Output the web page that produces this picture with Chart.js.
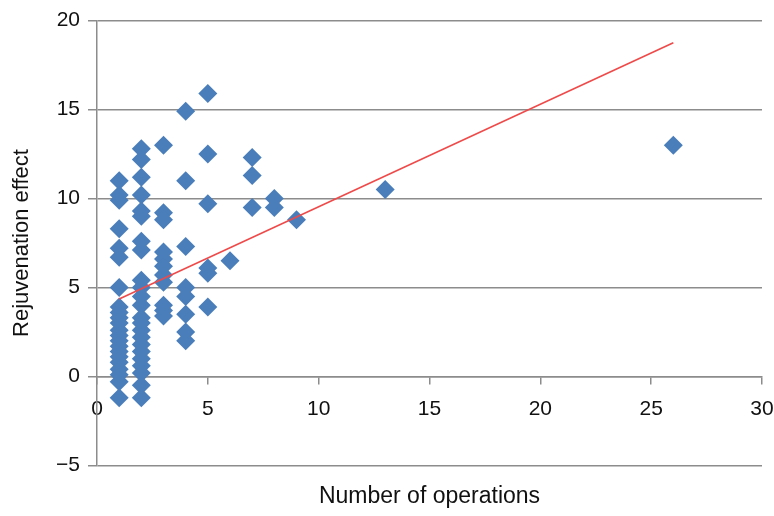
<!DOCTYPE html>
<html>
<head>
<meta charset="utf-8">
<script src="https://cdn.jsdelivr.net/npm/chart.js@4"></script>
<style>
  html, body { margin: 0; padding: 0; background: #fff; }
  #box { width: 774px; height: 516px; }
</style>
</head>
<body>
<div id="box"><canvas id="rejChart"></canvas></div>
<script>
// number of operations (x) and the rejuvenation effects measured at each count
const operations = [1, 2, 3, 4, 5, 6, 7, 8, 9, 13, 26];
const effects = [
    [11.0, 10.2, 9.9, 8.3, 7.2, 6.7, 5.0, 3.9, 3.6, 3.3, 3.0, 2.6, 2.3, 2.0, 1.7, 1.4, 1.1, 0.8, 0.4, 0.1, -0.3, -1.2],
    [12.8, 12.2, 11.2, 10.2, 9.3, 9.0, 7.6, 7.1, 5.4, 5.0, 4.5, 4.0, 3.3, 3.0, 2.6, 2.2, 1.8, 1.4, 1.0, 0.6, 0.2, -0.5, -1.2],
    [13.0, 9.2, 8.8, 7.0, 6.6, 6.2, 5.7, 5.3, 4.0, 3.7, 3.4],
    [14.9, 11.0, 7.3, 5.0, 4.5, 3.5, 2.5, 2.0],
    [15.9, 12.5, 9.7, 6.1, 5.8, 3.9],
    [6.5],
    [12.3, 11.3, 9.5],
    [10.0, 9.5],
    [8.8],
    [10.5],
    [13.0]
];
// linear trend line, end points
const trendX = [1, 26];
const trendY = [4.35, 18.75];

const xTicks = [0, 5, 10, 15, 20, 25, 30];
const yTicks = [-5, 0, 5, 10, 15, 20];

const points = [];
operations.forEach((n, i) => {
    effects[i].forEach(v => points.push({ x: n, y: v }));
});
const trend = trendX.map((x, i) => ({ x: x, y: trendY[i] }));

const gridGrey = '#8c8c8c';
const family = 'Liberation Sans, Arial, sans-serif';
const tickFont = { family: family, size: 21 };

// stop the end tick labels from pushing the plot edges inwards
const noSidePad = s => { s.paddingLeft = 0; s.paddingRight = 0; };

const ctx = document.getElementById('rejChart').getContext('2d');
const rejChart = new Chart(ctx, {
    type: 'scatter',
    data: {
        datasets: [{
            data: points,
            pointStyle: 'rectRot',
            pointRadius: 9.5,
            backgroundColor: '#4a7ebb',
            borderColor: '#4a7ebb',
            borderWidth: 0,
            order: 2
        }, {
            data: trend,
            showLine: true,
            borderColor: '#ef4a4a',
            borderWidth: 1.6,
            pointRadius: 0,
            fill: false,
            order: 1
        }]
    },
    options: {
        responsive: true,
        maintainAspectRatio: false,
        animation: false,
        layout: { padding: { top: 19, right: 12, left: 0, bottom: 0 } },
        plugins: {
            legend: { display: false },
            tooltip: { enabled: false }
        },
        scales: {
            x: {
                type: 'linear',
                position: { y: 0 },
                min: 0, max: 30,
                afterBuildTicks: s => { s.ticks = xTicks.map(v => ({ value: v })); },
                afterFit: noSidePad,
                ticks: { color: '#111', font: tickFont, padding: 13, maxRotation: 0 },
                grid: { drawOnChartArea: false, drawTicks: true, tickLength: 7, color: gridGrey, lineWidth: 1.5 },
                border: { color: gridGrey, width: 1.5 }
            },
            // bottom axis only carries the x title, centred under the plot
            xTitle: {
                type: 'linear',
                position: 'bottom',
                axis: 'x',
                min: 0, max: 30,
                afterFit: noSidePad,
                ticks: { display: false },
                grid: { display: false, drawTicks: false },
                border: { display: false },
                title: {
                    display: true,
                    text: 'Number of operations',
                    color: '#111',
                    font: { family: family, size: 23 },
                    padding: { top: 17, bottom: 6 }
                }
            },
            y: {
                min: -5, max: 20,
                afterBuildTicks: s => { s.ticks = yTicks.map(v => ({ value: v })); },
                afterFit: s => { s.width = 97; },
                ticks: {
                    color: '#111', font: tickFont, padding: 8,
                    callback: v => String(v).replace('-', '\u2212')
                },
                grid: { color: gridGrey, lineWidth: 1.5, tickLength: 9 },
                border: { color: gridGrey, width: 1.5 },
                title: {
                    display: true,
                    text: 'Rejuvenation effect',
                    color: '#111',
                    font: { family: family, size: 22 },
                    padding: { top: 9, bottom: 0 }
                }
            }
        }
    }
});
</script>
</body>
</html>
